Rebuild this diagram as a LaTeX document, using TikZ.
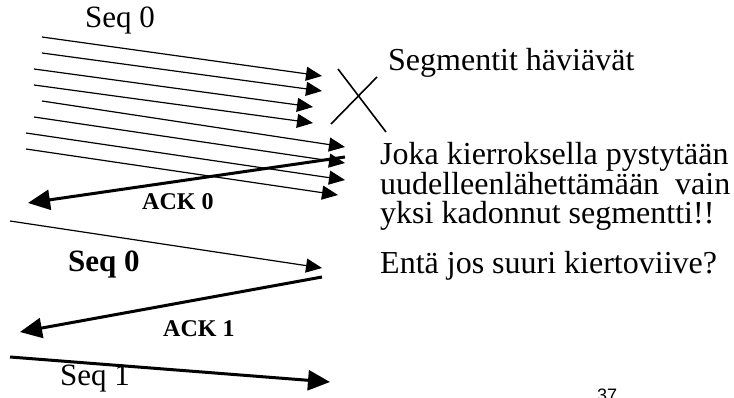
\documentclass[tikz,border=0pt]{standalone}
\usepackage{fontspec}
\setmainfont{Liberation Serif}
\newfontfamily\pagenofont{Liberation Sans}
\usetikzlibrary{arrows.meta}

\begin{document}
\begin{tikzpicture}
      [
        x=1pt, y=-1pt,
        SegLine/.style={line width=1.2pt, -{Triangle[length=16pt, width=14pt]}},
        AckLine/.style={line width=3pt, -{Triangle[length=22pt, width=20pt]}},
        BigText/.style={font=\fontsize{31}{30}\selectfont, inner sep=0pt, anchor=base west},
        AckText/.style={font=\fontsize{24}{26}\selectfont\bfseries, inner sep=0pt, anchor=base west},
      ]
      \useasboundingbox (0,0) rectangle (734,398);

      % window of segments
      \foreach \n/\xa/\ya/\xb/\yb in {1/42/37/322/76, 2/42/53/322/91, 3/34/69/313/107, 4/34/85/313/123,
                                     5/42/101/345/147, 6/34/117/345/163, 7/26/133/345/180, 8/26/149/338/195}
      {
        \coordinate (s\n) at (\xa,\ya);
        \coordinate (r\n) at (\xb,\yb);
        \draw [SegLine] (s\n) -- (r\n);
      }

      % lost ones
      \draw [line width=1.6pt] (338,69) -- (386,132);
      \draw [line width=1.6pt] (377,77) -- (331,124);

      \coordinate (ack0a) at (345,157);
      \coordinate (ack0b) at (28,203);
      \draw [AckLine] (ack0a) -- (ack0b);

      \coordinate (seq0a) at (10,221);
      \coordinate (seq0b) at (322,268);
      \draw [SegLine] (seq0a) -- (seq0b);

      \coordinate (ack1a) at (322,277);
      \coordinate (ack1b) at (20,332);
      \draw [AckLine] (ack1a) -- (ack1b);

      \coordinate (seq1a) at (10,357);
      \coordinate (seq1b) at (330,382);
      \draw [AckLine] (seq1a) -- (seq1b);

      \node [BigText] (seqtop) at (85,28) {Seq 0};
      \node [AckText] (ack0) at (142,210) {ACK 0};
      \node [BigText, font=\fontsize{31}{30}\selectfont\bfseries] (seq0) at (68,272) {Seq 0};
      \node [AckText] (ack1) at (163,336) {ACK 1};
      \node [BigText] (seq1) at (60,385) {Seq 1};

      \node [BigText, font=\fontsize{32}{30}\selectfont] (lost) at (388,71) {Segmentit häviävät};
      \node [BigText, font=\fontsize{32}{29}\selectfont, anchor=north west, align=left] (note) at (380,142)
        {Joka kierroksella pystytään\\uudelleenlähettämään\ \ vain\\yksi kadonnut segmentti!!};
      \node [BigText, font=\fontsize{32}{30}\selectfont] (rtt) at (380,274) {Entä jos suuri kiertoviive?};

      \node [inner sep=0pt, anchor=base west, font=\pagenofont\fontsize{18}{18}\selectfont] (pageno) at (597,401) {37};
    \end{tikzpicture}
\end{document}
